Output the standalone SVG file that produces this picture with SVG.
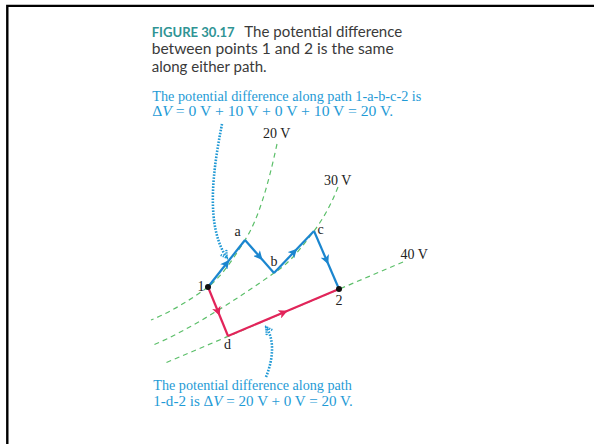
<svg xmlns="http://www.w3.org/2000/svg" width="594" height="444" viewBox="0 0 594 444">
<defs>
<style>
.title{font-family:Lato,"Open Sans",sans-serif;font-size:14.6px;fill:#3a3a3a}
.fig{font-weight:bold;fill:#2f9494;font-size:12.8px}
.note{font-family:"Liberation Serif","Times New Roman",serif;font-size:15px;fill:#1f9bd6}
.lbl{font-family:"Liberation Serif","Times New Roman",serif;font-size:14px;fill:#222}
.eq{fill:none;stroke:#5cbf6a;stroke-width:1.2;stroke-dasharray:5 4}
.blue{fill:none;stroke:#1b86cf;stroke-width:2.2;marker-mid:url(#ab)}
.red{fill:none;stroke:#e2245a;stroke-width:2.2;marker-mid:url(#ar)}
.call{fill:none;stroke:#1f98d4;stroke-width:2.6;stroke-dasharray:1.6 1.4}
</style>
<marker id="ab" viewBox="0 0 10 10" refX="5" refY="5" markerWidth="9" markerHeight="9" markerUnits="userSpaceOnUse" orient="auto"><path d="M0,0 L10,5 L0,10 L2.5,5 z" fill="#1b86cf"/></marker>
<marker id="ar" viewBox="0 0 10 10" refX="5" refY="5" markerWidth="9" markerHeight="9" markerUnits="userSpaceOnUse" orient="auto"><path d="M0,0 L10,5 L0,10 L2.5,5 z" fill="#e2245a"/></marker>
<marker id="ac" viewBox="0 0 10 10" refX="8" refY="5" markerWidth="10" markerHeight="10" markerUnits="userSpaceOnUse" orient="auto"><path d="M1,1 L8,5 L1,9" fill="none" stroke="#1f98d4" stroke-width="2.2" stroke-dasharray="1.3 1"/></marker>
</defs>
<rect width="594" height="444" fill="#fff"/>
<path d="M7.3,444 V5.9 H594" fill="none" stroke="#000" stroke-width="2.4"/>

<g id="caption">
<text class="title" y="36.5"><tspan class="fig" x="151.7" textLength="83" lengthAdjust="spacingAndGlyphs">FIGURE 30.17</tspan><tspan x="244.3" textLength="158" lengthAdjust="spacingAndGlyphs">The potential difference</tspan></text>
<text class="title" x="151.7" y="54.3" textLength="242" lengthAdjust="spacingAndGlyphs">between points 1 and 2 is the same</text>
<text class="title" x="151.7" y="71.7" textLength="115" lengthAdjust="spacingAndGlyphs">along either path.</text>
</g>

<g id="note-top">
<text class="note" x="152.3" y="101" textLength="269" lengthAdjust="spacingAndGlyphs">The potential difference along path 1-a-b-c-2 is</text>
<text class="note" x="152.3" y="116" textLength="241" lengthAdjust="spacingAndGlyphs">Δ<tspan font-style="italic">V</tspan> = 0 V + 10 V + 0 V + 10 V = 20 V.</text>
</g>

<g id="note-bottom">
<text class="note" x="153.3" y="390" textLength="198.5" lengthAdjust="spacingAndGlyphs">The potential difference along path</text>
<text class="note" x="153.3" y="405.7" textLength="199.5" lengthAdjust="spacingAndGlyphs">1-d-2 is Δ<tspan font-style="italic">V</tspan> = 20 V + 0 V = 20 V.</text>
</g>

<g id="equipotentials">
<path class="eq" d="M277,144 C268,186 258,220 245,240 C232,261 221,277 208,287 C190,300 171,312 151,320"/>
<path class="eq" d="M338,187 C331,205 323,219 314,231 C302,247 289,264 274,273 C240,297 190,330 151,346"/>
<path class="eq" d="M403,262 L163,364"/>
<text class="lbl" x="263" y="137.7">20 V</text>
<text class="lbl" x="324" y="185.3">30 V</text>
<text class="lbl" x="400.5" y="259.3">40 V</text>
</g>

<g id="connectors">
<path class="blue" d="M208,287 L226.5,263.5 L245,240"/>
<path class="blue" d="M245,240 L259.5,256.5 L274,273"/>
<path class="blue" d="M274,273 L294,252 L314,231"/>
<path class="blue" d="M314,231 L326.5,260 L339,289"/>
<path class="red" d="M208,287 L218,311.5 L228,336"/>
<path class="red" d="M228,336 L283.5,312.5 L339,289"/>
<path class="call" d="M222,124 C213,170 205,226 227,258" marker-end="url(#ac)"/>
<path class="call" d="M266,377 C273,360 275,340 266,327" marker-end="url(#ac)"/>
</g>

<g id="node-1"><circle cx="208" cy="287" r="3" fill="#111"/><text class="lbl" x="197.5" y="290.5">1</text></g>
<g id="node-a"><text class="lbl" x="234.5" y="236">a</text></g>
<g id="node-b"><text class="lbl" x="270.5" y="266">b</text></g>
<g id="node-c"><text class="lbl" x="317.5" y="234">c</text></g>
<g id="node-2"><circle cx="339" cy="289" r="3" fill="#111"/><text class="lbl" x="335.5" y="305">2</text></g>
<g id="node-d"><text class="lbl" x="224" y="348.5">d</text></g>
</svg>
